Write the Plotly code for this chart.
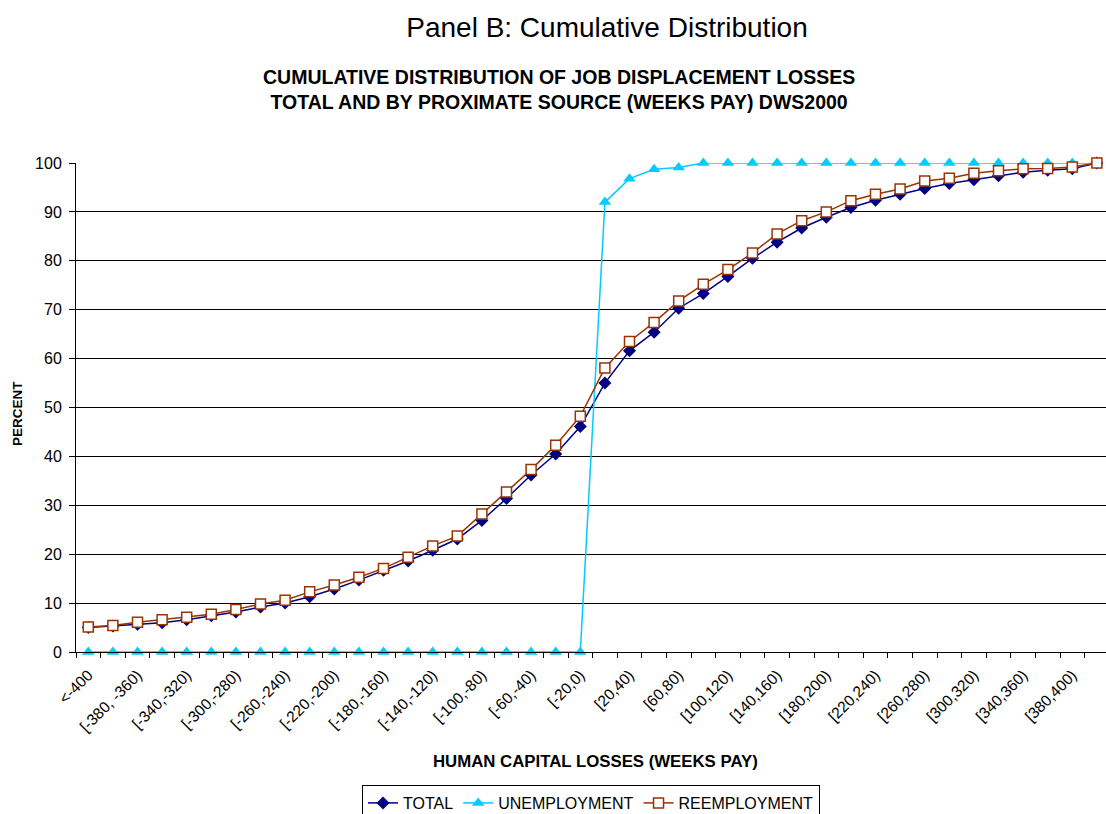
import plotly.graph_objects as go

# categories
bins = list(range(-400, 400, 20))
categories = ["<-400"] + [f"[{a},{a+20})" for a in bins] + [">=400"]
categories[2] = "[-380, -360)"
tick_labels = [c if i % 2 == 0 and i <= 40 else "" for i, c in enumerate(categories)]

total = [5.0, 5.3, 5.7, 6.0, 6.6, 7.4, 8.2, 9.2, 10.0, 11.3, 12.9, 14.7, 16.7, 18.6,
         20.8, 23.1, 26.9, 31.4, 36.2, 40.5, 46.1, 55.0, 61.6, 65.4, 70.3, 73.3,
         76.8, 80.5, 83.8, 86.7, 88.9, 90.9, 92.4, 93.6, 94.8, 95.8, 96.6, 97.4,
         98.1, 98.5, 98.8, 100.0]
unemployment = [0]*21 + [92.0, 96.8, 98.7, 99.1] + [100.0]*17
reemployment = [5.1, 5.4, 6.1, 6.6, 7.1, 7.7, 8.7, 9.8, 10.6, 12.3, 13.7, 15.3, 17.1,
                19.4, 21.7, 23.7, 28.2, 32.7, 37.3, 42.3, 48.2, 58.1, 63.5, 67.4,
                71.8, 75.2, 78.2, 81.6, 85.5, 88.2, 90.0, 92.3, 93.6, 94.7, 96.3,
                96.9, 97.9, 98.4, 98.8, 98.9, 99.2, 100.0]

FONT = "Liberation Sans, Arial, sans-serif"
L, T, B = 76, 163, 162
PW, PH = 1106 - L, 814 - T - B

fig = go.Figure()
fig.add_trace(go.Scatter(x=categories, y=total, name="TOTAL", mode="lines+markers",
                         line=dict(color="#000080", width=1.5),
                         marker=dict(symbol="diamond", size=10, color="#000080"),
                         cliponaxis=False))
fig.add_trace(go.Scatter(x=categories, y=unemployment, name="UNEMPLOYMENT", mode="lines+markers",
                         line=dict(color="#00CCFF", width=1.5),
                         marker=dict(symbol="triangle-up", size=11, color="#00CCFF"),
                         cliponaxis=False))
fig.add_trace(go.Scatter(x=categories, y=reemployment, name="REEMPLOYMENT", mode="lines+markers",
                         line=dict(color="#993300", width=1.5),
                         marker=dict(symbol="square", size=10, color="white",
                                     line=dict(color="#993300", width=1.5)),
                         cliponaxis=False))

fig.update_layout(
    width=1106, height=814,
    paper_bgcolor="white", plot_bgcolor="white",
    margin=dict(l=L, r=0, t=T, b=B, autoexpand=False),
    font=dict(family=FONT, color="black", size=15),
    title=dict(text="Panel B: Cumulative Distribution", x=607/1106, xanchor="center",
               y=1 - 27/814, yanchor="middle", font=dict(size=28, family=FONT)),
    showlegend=True,
    legend=dict(orientation="h", x=0.5, xanchor="center", y=-(785-652)/PH, yanchor="top",
                bordercolor="black", borderwidth=1, font=dict(size=16, family=FONT),
                itemwidth=30, tracegroupgap=0),
    xaxis=dict(type="category", categoryorder="array", categoryarray=categories,
               range=[-0.5, 41.37], tickmode="array", tickvals=categories, ticktext=tick_labels,
               tickangle=-45, tickson="boundaries", ticks="outside", ticklen=5,
               tickcolor="black", showline=True, linecolor="black", linewidth=1,
               showgrid=False, tickfont=dict(size=15.5, family=FONT), zeroline=False,
               ticklabelstandoff=7, automargin=False),
    yaxis=dict(range=[0, 100], dtick=10, ticks="outside", ticklen=6, tickcolor="black",
               showline=True, linecolor="black", linewidth=1, showgrid=True,
               gridcolor="black", gridwidth=1, zeroline=False, ticklabelstandoff=4,
               tickfont=dict(size=16, family=FONT), automargin=False),
    annotations=[
        dict(text="<b>CUMULATIVE DISTRIBUTION OF JOB DISPLACEMENT LOSSES<br>TOTAL AND BY PROXIMATE SOURCE (WEEKS PAY) DWS2000</b>",
             xref="paper", yref="paper", x=(559-L)/PW, y=1 + (163-89)/PH,
             xanchor="center", yanchor="middle", showarrow=False,
             font=dict(size=19.5, family=FONT), align="center"),
        dict(text="<b>PERCENT</b>", xref="paper", yref="paper", x=-(L-17)/PW, y=(652-414)/PH,
             xanchor="center", yanchor="middle", textangle=-90, showarrow=False,
             font=dict(size=13.5, family=FONT)),
        dict(text="<b>HUMAN CAPITAL LOSSES (WEEKS PAY)</b>", xref="paper", yref="paper",
             x=(595-L)/PW, y=-(761-652)/PH, xanchor="center", yanchor="middle",
             showarrow=False, font=dict(size=16.8, family=FONT)),
    ],
)

fig.write_html("out.html", config={"displayModeBar": False},
               post_script="document.body.style.margin='0';document.body.style.padding='0';")
